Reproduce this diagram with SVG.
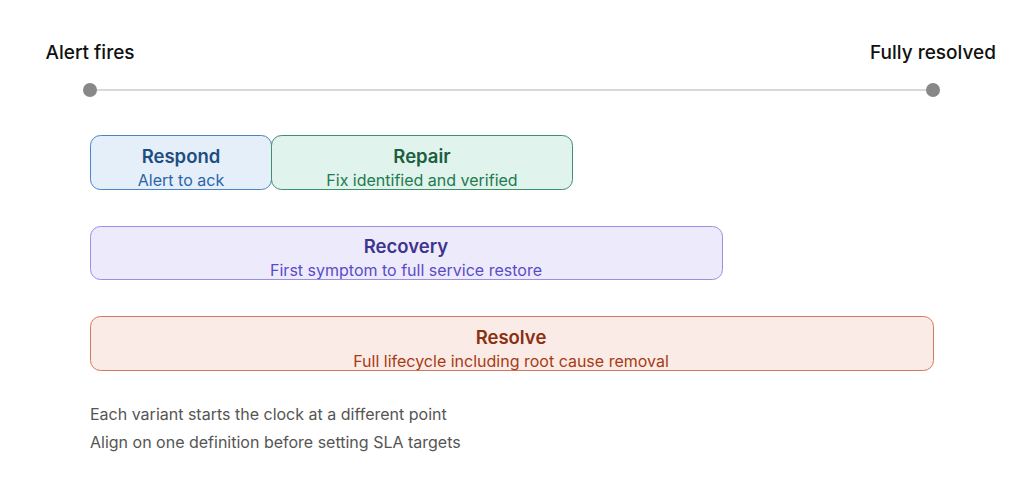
<svg xmlns="http://www.w3.org/2000/svg" width="1024" height="482" viewBox="0 0 1024 482">
<style>
text{font-family:"Inter","Liberation Sans",sans-serif;text-anchor:middle}
.t{font-size:18.5px;font-weight:600}
.s{font-size:16px}
.h{font-size:19px;font-weight:500;fill:#111}
.n{font-size:16px;fill:#555;text-anchor:start}
</style>
<rect width="1024" height="482" fill="#fff"/>
<g id="axis">
<text class="h" x="90" y="59">Alert fires</text>
<text class="h" x="933" y="59">Fully resolved</text>
<line x1="90" y1="90" x2="933" y2="90" stroke="#ccc" stroke-width="1.5"/>
<circle cx="90" cy="90" r="7" fill="#888"/>
<circle cx="933" cy="90" r="7" fill="#888"/>
</g>
<g id="respond">
<rect x="90.5" y="135.5" width="181" height="54" rx="10" fill="#e4effa" stroke="#4a84c4"/>
<text class="t" x="181" y="163" fill="#1f4d80">Respond</text>
<text class="s" x="181" y="186" fill="#2d63a8">Alert to ack</text>
</g>
<g id="repair">
<rect x="271.5" y="135.5" width="301" height="54" rx="10" fill="#e0f3ec" stroke="#3f8f6a"/>
<text class="t" x="422" y="163" fill="#1c5e40">Repair</text>
<text class="s" x="422" y="186" fill="#227a50">Fix identified and verified</text>
</g>
<g id="recovery">
<rect x="90.5" y="226.5" width="632" height="53" rx="10" fill="#edebfb" stroke="#9a8fe0"/>
<text class="t" x="406" y="253" fill="#3d3490">Recovery</text>
<text class="s" x="406" y="276" fill="#5a4cc8">First symptom to full service restore</text>
</g>
<g id="resolve">
<rect x="90.5" y="316.5" width="843" height="54" rx="10" fill="#fbebe6" stroke="#d0795c"/>
<text class="t" x="511" y="344" fill="#8a2f12">Resolve</text>
<text class="s" x="511" y="367" fill="#a83a14">Full lifecycle including root cause removal</text>
</g>
<g id="notes">
<text class="n" x="90" y="420">Each variant starts the clock at a different point</text>
<text class="n" x="90" y="448">Align on one definition before setting SLA targets</text>
</g>
<g id="connectors"/>
</svg>
